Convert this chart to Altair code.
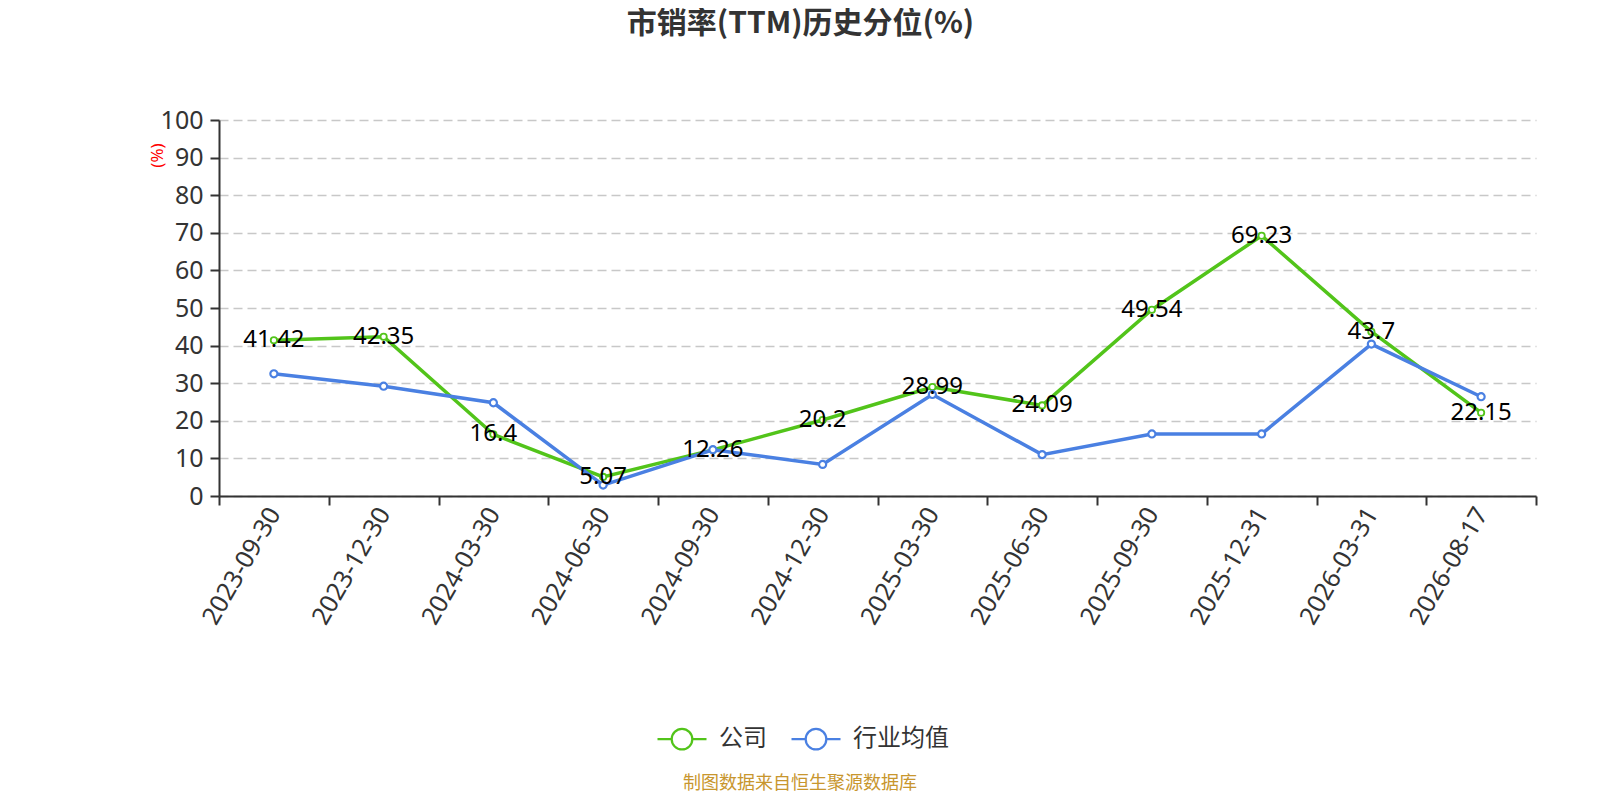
import altair as alt
import pandas as pd

FONT = "'Noto Sans', 'Noto Sans CJK SC', sans-serif"
CJK = "'Noto Sans CJK SC', sans-serif"

dates = ["2023-09-30", "2023-12-30", "2024-03-30", "2024-06-30", "2024-09-30", "2024-12-30",
         "2025-03-30", "2025-06-30", "2025-09-30", "2025-12-31", "2026-03-31", "2026-08-17"]
company = [41.42, 42.35, 16.4, 5.07, 12.26, 20.2, 28.99, 24.09, 49.54, 69.23, 43.7, 22.15]
industry = [32.5, 29.2, 24.8, 2.9, 12.3, 8.4, 27.0, 11.0, 16.5, 16.5, 40.4, 26.4]
series_names = ["公司", "行业均值"]
colors = ["#52c41a", "#4a80e2"]
title_text = "市销率(TTM)历史分位(%)"
footer_text = "制图数据来自恒生聚源数据库"

rows = []
for d, c, i in zip(dates, company, industry):
    rows.append({"date": d, "series": series_names[0], "value": c})
    rows.append({"date": d, "series": series_names[1], "value": i})
df = pd.DataFrame(rows)

sym_path = ("M-1,0L-0.42,0M0.42,0L1,0M0.42,0A0.42,0.42,0,1,1,-0.42,0"
            "A0.42,0.42,0,1,1,0.42,0Z")

x_enc = alt.X("date:N", sort=dates, title=None,
              scale=alt.Scale(type="band", paddingInner=0, paddingOuter=0),
              axis=alt.Axis(labelAngle=-60, labelAlign="right", labelBaseline="middle",
                            labelFontSize=25, labelFont=FONT, labelColor="#333333",
                            labelPadding=4, tickSize=9, tickWidth=2, tickColor="#333333",
                            domainColor="#333333", domainWidth=2, tickBand="extent",
                            grid=False))
y_enc = alt.Y("value:Q",
              scale=alt.Scale(domain=[0, 100], nice=False),
              axis=alt.Axis(values=list(range(0, 101, 10)), title="(%)",
                            titleColor="red", titleFontSize=17, titleFont=FONT,
                            titleFontWeight="normal", titleX=-62, titleY=35,
                            titleAlign="center", titleBaseline="middle",
                            labelFontSize=25, labelFont=FONT, labelColor="#333333",
                            labelPadding=7, tickSize=9, tickWidth=2, tickColor="#333333",
                            domainColor="#333333", domainWidth=2,
                            grid=True, gridColor="#c8c8c8", gridDash=[9, 5], gridWidth=1.3))

color_scale = alt.Scale(domain=series_names, range=colors)

base = alt.Chart(df)

lines = base.mark_line(strokeWidth=3.5).encode(
    x=x_enc, y=y_enc,
    stroke=alt.Stroke("series:N", scale=color_scale, sort=series_names,
                      legend=alt.Legend(title=None, orient="none", legendX=437, legendY=593,
                                        direction="horizontal", symbolType=sym_path,
                                        symbolSize=2401, symbolStrokeWidth=2.2,
                                        symbolFillColor="white", labelFontSize=24,
                                        labelFont=CJK, labelColor="#333333",
                                        labelOffset=11, columnPadding=20, padding=0)),
)

pts_company = base.transform_filter(alt.datum.series == series_names[0]).mark_point(
    filled=False, fill="white", fillOpacity=1, strokeWidth=1.8, size=40, opacity=1
).encode(x=x_enc, y=y_enc, stroke=alt.Stroke("series:N", scale=color_scale, legend=None))

pts_industry = base.transform_filter(alt.datum.series == series_names[1]).mark_point(
    filled=False, fill="white", fillOpacity=1, strokeWidth=2.2, size=50, opacity=1
).encode(x=x_enc, y=y_enc, stroke=alt.Stroke("series:N", scale=color_scale, legend=None))

labels = base.transform_filter(alt.datum.series == series_names[0]).mark_text(
    fontSize=24, font=FONT, color="black", align="center", baseline="middle", dy=0
).encode(x=x_enc, y=y_enc, text=alt.Text("value:Q"))

footer = alt.Chart(alt.Data(values=[{"t": footer_text}])).mark_text(
    fontSize=18, font=CJK, color="#c8962e", align="center", baseline="middle"
).encode(x=alt.value(581), y=alt.value(664), text="t:N")

chart = alt.layer(lines, pts_company, pts_industry, labels, footer).properties(
    width=1317, height=376,
    autosize=alt.AutoSizeParams(type="none"),
    padding={"left": 211, "top": 112, "right": 56, "bottom": 296},
    title=alt.Title(title_text, fontSize=30, font=CJK, fontWeight="bold",
                    color="#333333", anchor="middle", dx=-77, offset=69),
).configure_view(stroke=None)

chart.save("out.html", embed_options={"renderer": "svg", "actions": False})
